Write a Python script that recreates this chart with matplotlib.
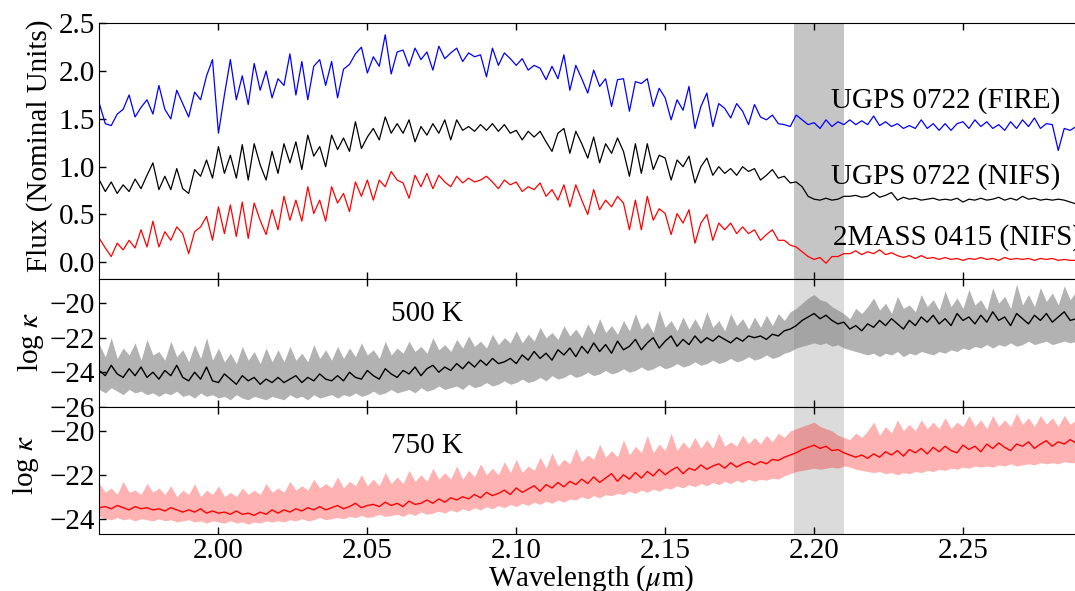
import numpy as np
import matplotlib
matplotlib.use('Agg')
import matplotlib.pyplot as plt

plt.rcParams['font.family'] = ['Liberation Serif', 'DejaVu Serif']
plt.rcParams['mathtext.fontset'] = 'stix'
plt.rcParams['font.size'] = 21

# wavelength grid (micron), 0.002 step
wl = np.linspace(1.960, 2.288, 165)

# spectra, offset
fire_ugps = [
    1.66, 1.45, 1.43, 1.55, 1.60, 1.75, 1.52, 1.62, 1.70, 1.55,
    1.85, 1.60, 1.50, 1.80, 1.66, 1.52, 1.78, 1.70, 1.95, 2.12,
    1.35, 1.75, 2.12, 1.70, 1.95, 1.65, 2.08, 1.80, 2.00, 1.72,
    1.92, 1.85, 2.18, 1.75, 2.10, 1.70, 2.05, 2.12, 1.85, 2.10,
    1.72, 2.02, 2.07, 2.18, 2.25, 1.98, 2.15, 2.05, 2.38, 1.97,
    2.20, 2.22, 2.05, 2.24, 2.12, 2.20, 2.01, 2.26, 2.13, 2.19,
    2.24, 2.10, 2.19, 2.15, 2.17, 1.94, 2.24, 2.06, 2.19, 2.13,
    2.06, 2.13, 2.01, 2.06, 2.03, 1.91, 2.05, 1.92, 2.17, 1.80,
    2.06, 1.92, 1.77, 2.01, 1.84, 1.92, 1.63, 1.91, 1.92, 1.58,
    1.89, 1.87, 1.92, 1.63, 1.82, 1.72, 1.49, 1.70, 1.59, 1.84,
    1.40, 1.63, 1.77, 1.42, 1.66, 1.61, 1.51, 1.66, 1.58, 1.44,
    1.65, 1.52, 1.49, 1.54, 1.45, 1.44, 1.42, 1.54, 1.49, 1.44,
    1.46, 1.40, 1.49, 1.42, 1.47, 1.44, 1.49, 1.44, 1.48, 1.44,
    1.53, 1.43, 1.47, 1.42, 1.45, 1.40, 1.43, 1.40, 1.49, 1.40,
    1.45, 1.38, 1.45, 1.38, 1.45, 1.47, 1.40, 1.49, 1.42, 1.47,
    1.40, 1.44, 1.38, 1.47, 1.40, 1.49, 1.42, 1.51, 1.40, 1.45,
    1.44, 1.17, 1.40, 1.38, 1.42,
]
nifs_ugps = [
    0.86, 0.74, 0.84, 0.72, 0.81, 0.74, 0.87, 0.77, 0.91, 1.04,
    0.76, 0.90, 0.76, 0.98, 0.77, 0.72, 0.97, 0.90, 1.07, 0.88,
    1.21, 0.93, 1.12, 0.88, 1.23, 0.86, 1.24, 1.02, 0.86, 1.16,
    0.93, 1.24, 1.04, 1.26, 0.97, 1.33, 1.11, 1.21, 1.00, 1.33,
    1.18, 1.30, 1.16, 1.47, 1.19, 1.31, 1.40, 1.28, 1.52, 1.35,
    1.45, 1.35, 1.49, 1.26, 1.42, 1.33, 1.45, 1.35, 1.49, 1.28,
    1.49, 1.38, 1.42, 1.37, 1.44, 1.38, 1.45, 1.37, 1.44, 1.35,
    1.38, 1.28, 1.37, 1.31, 1.37, 1.26, 1.16, 1.35, 1.40, 1.14,
    1.37, 1.24, 1.09, 1.31, 1.04, 1.24, 1.14, 1.30, 1.16, 0.90,
    1.24, 0.93, 1.24, 0.97, 1.12, 1.09, 0.86, 1.07, 1.00, 1.11,
    0.83, 1.00, 1.09, 0.91, 1.00, 0.93, 0.98, 0.91, 1.00, 0.95,
    0.98, 0.86, 0.91, 0.97, 0.88, 0.90, 0.83, 0.84, 0.79, 0.69,
    0.66, 0.65, 0.67, 0.65, 0.66, 0.69, 0.69, 0.70, 0.68, 0.69,
    0.73, 0.68, 0.70, 0.73, 0.65, 0.68, 0.66, 0.67, 0.65, 0.66,
    0.67, 0.65, 0.66, 0.65, 0.67, 0.63, 0.66, 0.65, 0.67, 0.65,
    0.66, 0.68, 0.65, 0.67, 0.65, 0.69, 0.66, 0.67, 0.65, 0.66,
    0.65, 0.66, 0.65, 0.63, 0.61,
]
nifs_2mass = [
    0.25, 0.15, 0.06, 0.20, 0.13, 0.23, 0.15, 0.34, 0.16, 0.43,
    0.16, 0.32, 0.23, 0.37, 0.30, 0.09, 0.32, 0.37, 0.48, 0.23,
    0.58, 0.30, 0.60, 0.27, 0.63, 0.25, 0.62, 0.44, 0.29, 0.55,
    0.34, 0.69, 0.44, 0.65, 0.43, 0.79, 0.51, 0.65, 0.43, 0.79,
    0.62, 0.72, 0.53, 0.84, 0.69, 0.86, 0.65, 0.86, 0.79, 0.95,
    0.86, 0.83, 0.67, 0.91, 0.79, 0.93, 0.77, 0.91, 0.84, 0.79,
    0.90, 0.83, 0.88, 0.84, 0.86, 0.90, 0.84, 0.77, 0.86, 0.81,
    0.84, 0.74, 0.79, 0.76, 0.83, 0.69, 0.76, 0.65, 0.81, 0.58,
    0.81, 0.65, 0.50, 0.76, 0.55, 0.65, 0.58, 0.69, 0.62, 0.34,
    0.65, 0.34, 0.69, 0.44, 0.56, 0.51, 0.29, 0.51, 0.41, 0.55,
    0.20, 0.41, 0.50, 0.23, 0.41, 0.34, 0.41, 0.30, 0.37, 0.30,
    0.34, 0.23, 0.29, 0.34, 0.23, 0.23, 0.18, 0.16, 0.11, 0.06,
    0.03, 0.05, -0.01, 0.06, 0.06, 0.09, 0.09, 0.12, 0.08, 0.11,
    0.09, 0.13, 0.08, 0.10, 0.07, 0.05, 0.07, 0.04, 0.07, 0.04,
    0.05, 0.03, 0.05, 0.03, 0.04, 0.02, 0.04, 0.03, 0.05, 0.03,
    0.04, 0.02, 0.05, 0.03, 0.04, 0.03, 0.04, 0.02, 0.04, 0.03,
    0.04, 0.02, 0.03, 0.02, 0.02,
]

# log opacity, 500 K: median line and envelope
k500 = [
    -23.9, -24.2, -23.6, -24.1, -24.3, -23.8, -24.2, -23.7, -24.3, -24.0,
    -24.4, -23.9, -24.2, -23.6, -24.3, -24.5, -24.0, -24.4, -23.7, -24.5,
    -24.6, -24.1, -24.4, -24.7, -24.2, -24.5, -24.3, -24.7, -24.4, -24.6,
    -24.3, -24.6, -24.4, -24.2, -24.6, -24.3, -24.5, -24.1, -24.4, -24.5,
    -24.2, -24.5, -24.0, -24.3, -24.4, -23.9, -24.2, -24.4, -23.8, -24.1,
    -24.3, -23.9, -24.1, -23.7, -24.2, -23.8, -23.6, -24.0, -23.7, -23.9,
    -23.5, -23.8, -23.4, -23.7, -23.3, -23.6, -23.2, -23.5, -23.4, -23.2,
    -23.5, -23.0, -23.3, -22.8, -23.2, -22.9, -23.3, -22.7, -23.0, -22.6,
    -23.1, -22.5, -22.9, -22.3, -22.8, -22.4, -22.9, -22.2, -22.7, -22.5,
    -22.1, -22.7, -22.3, -22.0, -22.6, -22.2, -21.9, -22.5, -22.1, -22.4,
    -21.9, -22.3, -22.0, -22.2, -21.9, -22.1, -22.3, -22.0, -22.2, -21.9,
    -22.0, -21.9, -22.1, -21.8, -21.9, -21.6, -21.5, -21.3, -21.0, -20.8,
    -20.6, -20.9, -20.7, -21.0, -21.2, -21.1, -21.5, -21.3, -21.6, -21.2,
    -21.4, -21.0, -21.3, -20.9, -21.2, -21.5, -21.0, -21.3, -20.8, -21.1,
    -20.7, -21.2, -20.9, -21.3, -20.6, -21.0, -20.8, -21.2, -20.7, -21.1,
    -20.5, -21.0, -20.8, -21.3, -20.6, -20.9, -21.2, -20.7, -21.0, -20.6,
    -21.1, -20.8, -20.5, -21.0, -20.9,
]
k500_hi = [
    -22.4, -23.1, -22.0, -23.2, -22.6, -23.0, -22.3, -23.3, -22.1, -23.0,
    -22.8, -23.3, -22.2, -23.1, -22.7, -23.4, -22.4, -23.2, -22.0, -23.3,
    -22.6, -23.4, -22.9, -23.5, -22.5, -23.3, -22.8, -23.5, -22.6, -23.4,
    -22.7, -23.4, -22.5, -23.3, -22.9, -23.4, -22.4, -23.2, -22.7, -23.3,
    -22.5, -23.2, -22.6, -23.1, -22.3, -23.0, -22.7, -23.2, -22.2, -23.0,
    -22.6, -22.9, -22.2, -22.8, -22.5, -22.9, -22.0, -22.7, -22.4, -22.8,
    -22.1, -22.6, -21.9, -22.5, -22.2, -22.6, -21.8, -22.4, -22.0, -22.3,
    -21.6, -22.3, -21.8, -22.2, -21.4, -22.0, -21.7, -22.1, -21.3, -21.9,
    -21.5, -22.0, -21.2, -21.8, -20.9, -21.7, -21.3, -21.8, -21.0, -21.6,
    -20.6, -21.5, -21.1, -21.7, -20.4, -21.4, -21.0, -21.6, -20.8, -21.5,
    -20.9, -21.5, -20.5, -21.4, -21.0, -21.6, -20.6, -21.3, -20.9, -21.5,
    -20.8, -21.4, -20.7, -21.3, -20.6, -21.0, -20.5, -20.3, -20.0, -19.7,
    -19.5, -19.8, -19.9, -20.2, -20.4, -20.6, -20.9, -20.3, -20.6, -20.2,
    -19.7, -20.4, -20.0, -20.6, -19.6, -20.3, -20.1, -20.5, -19.5, -20.2,
    -19.8, -20.4, -19.3, -20.2, -19.7, -20.3, -19.2, -20.1, -19.8, -20.4,
    -19.1, -20.0, -19.6, -20.3, -18.9, -20.1, -19.5, -20.2, -19.1, -19.9,
    -19.4, -20.1, -19.0, -19.8, -19.3,
]
k500_lo = [
    -25.0, -25.2, -24.9, -25.1, -25.3, -25.0, -25.2, -25.1, -25.3, -25.2,
    -25.4, -25.2, -25.3, -25.1, -25.4, -25.3, -25.5, -25.2, -25.4, -25.3,
    -25.5, -25.4, -25.6, -25.3, -25.5, -25.6, -25.4, -25.5, -25.6, -25.4,
    -25.5, -25.6, -25.3, -25.5, -25.4, -25.6, -25.3, -25.5, -25.4, -25.3,
    -25.5, -25.3, -25.4, -25.2, -25.4, -25.3, -25.1, -25.3, -25.2, -25.0,
    -25.2, -25.1, -25.0, -25.2, -24.9, -25.1, -25.0, -24.8, -25.0, -24.9,
    -24.8, -25.0, -24.7, -24.9, -24.8, -24.6, -24.8, -24.7, -24.5, -24.7,
    -24.6, -24.4, -24.6, -24.5, -24.3, -24.5, -24.2, -24.4, -24.3, -24.1,
    -24.3, -24.2, -24.0, -24.2, -24.1, -23.9, -24.1, -24.0, -23.8, -24.0,
    -23.9, -23.7, -23.9, -23.8, -23.6, -23.8, -23.7, -23.5, -23.7, -23.6,
    -23.4, -23.6, -23.5, -23.3, -23.5, -23.4, -23.2, -23.4, -23.3, -23.1,
    -23.3, -23.2, -23.0, -23.2, -23.1, -22.9, -22.8, -22.6, -22.5, -22.4,
    -22.3, -22.4, -22.3, -22.5, -22.4, -22.6, -22.7, -22.8, -22.9, -23.0,
    -22.9, -23.1, -22.9, -23.0, -22.8, -23.1, -22.9, -23.0, -22.8, -22.9,
    -23.0, -22.8, -22.9, -22.7, -22.8, -22.6, -22.7, -22.5, -22.6, -22.4,
    -22.6, -22.4, -22.5, -22.3, -22.5, -22.4, -22.2, -22.4, -22.3, -22.2,
    -22.4, -22.3, -22.2, -22.3, -22.2,
]

# log opacity, 750 K
k750 = [
    -23.5, -23.45, -23.55, -23.4, -23.5, -23.6, -23.45, -23.55, -23.5, -23.6,
    -23.55, -23.65, -23.5, -23.6, -23.7, -23.6, -23.7, -23.55, -23.75, -23.65,
    -23.75, -23.7, -23.8, -23.65, -23.8, -23.75, -23.85, -23.7, -23.8, -23.6,
    -23.75, -23.6, -23.7, -23.55, -23.65, -23.5, -23.6, -23.45, -23.6, -23.5,
    -23.4, -23.55, -23.45, -23.3, -23.5, -23.4, -23.35, -23.45, -23.25, -23.4,
    -23.3, -23.45, -23.2, -23.35, -23.3, -23.15, -23.3, -23.1, -23.25, -23.05,
    -23.15, -23.0, -23.1, -22.9, -23.05, -22.8, -22.95, -22.85, -22.7, -22.9,
    -22.6, -22.8, -22.65, -22.5, -22.75, -22.45, -22.6, -22.35, -22.55, -22.3,
    -22.45, -22.2, -22.4, -22.1, -22.35, -22.15, -21.95, -22.3, -22.0, -22.2,
    -21.9, -22.15, -21.85, -22.05, -21.75, -22.0, -21.8, -21.65, -21.95, -21.7,
    -21.8, -21.55, -21.75, -21.6, -21.5, -21.7, -21.45, -21.65, -21.5, -21.4,
    -21.55, -21.4, -21.5, -21.3, -21.35, -21.2, -21.1, -21.0, -20.85, -20.75,
    -20.65, -20.8, -20.7, -20.9, -20.85, -21.0, -21.1, -21.2, -21.1, -21.25,
    -21.05, -21.2, -20.95, -21.1, -20.9, -21.15, -20.85, -21.0, -20.8, -21.05,
    -20.75, -20.95, -20.7, -20.9, -21.0, -20.65, -20.85, -20.7, -20.95, -20.6,
    -20.8, -20.55, -20.75, -20.9, -20.6, -20.7, -20.5, -20.8, -20.6, -20.45,
    -20.7, -20.5, -20.6, -20.4, -20.55,
]
k750_hi = [
    -22.4, -22.8, -22.6, -22.9, -22.3, -22.8, -22.7, -22.9, -22.4, -22.8,
    -22.6, -22.9, -22.5, -23.0, -22.7, -22.9, -22.4, -23.0, -22.7, -22.9,
    -22.5, -23.0, -22.8, -23.0, -22.6, -22.9, -22.7, -22.9, -22.4, -22.8,
    -22.6, -22.8, -22.3, -22.7, -22.5, -22.7, -22.2, -22.6, -22.4, -22.6,
    -22.1, -22.6, -22.3, -22.5, -22.0, -22.5, -22.2, -22.5, -21.9, -22.4,
    -22.1, -22.4, -21.8, -22.3, -22.0, -22.3, -21.7, -22.2, -21.9, -22.2,
    -21.6, -22.2, -21.8, -22.1, -21.5, -22.0, -21.7, -22.0, -21.4, -21.9,
    -21.3, -21.9, -21.6, -21.8, -21.2, -21.7, -21.0, -21.6, -21.3, -21.5,
    -20.8, -21.4, -21.1, -21.3, -20.6, -21.2, -20.9, -21.2, -20.4, -21.1,
    -20.7, -21.0, -20.2, -21.0, -20.6, -20.9, -20.1, -20.9, -20.5, -20.8,
    -20.3, -20.8, -20.4, -20.8, -20.1, -20.7, -20.5, -20.7, -20.2, -20.6,
    -20.3, -20.6, -20.2, -20.5, -20.1, -20.3, -20.0, -19.9, -19.8, -19.7,
    -19.6, -19.8, -19.9, -20.0, -20.2, -20.3, -20.4, -20.1, -20.3, -20.0,
    -19.6, -20.2, -19.8, -20.1, -19.5, -20.0, -19.7, -20.0, -19.5, -19.9,
    -19.6, -19.9, -19.4, -19.9, -19.6, -19.8, -19.3, -19.8, -19.5, -19.9,
    -19.3, -19.8, -19.5, -19.8, -19.2, -19.7, -19.4, -19.8, -19.3, -19.7,
    -19.4, -19.8, -19.3, -19.7, -19.5,
]
k750_lo = [
    -23.9, -24.0, -24.05, -23.95, -24.05, -24.0, -24.1, -24.0, -24.05, -24.1,
    -24.0, -24.1, -24.05, -24.15, -24.1, -24.05, -24.15, -24.1, -24.2, -24.1,
    -24.15, -24.2, -24.1, -24.2, -24.15, -24.25, -24.15, -24.2, -24.1, -24.15,
    -24.1, -24.15, -24.05, -24.1, -24.0, -24.1, -24.05, -23.95, -24.05, -24.0,
    -23.95, -24.0, -23.9, -23.95, -23.85, -23.95, -23.9, -23.8, -23.9, -23.85,
    -23.8, -23.9, -23.75, -23.85, -23.7, -23.8, -23.75, -23.65, -23.75, -23.6,
    -23.7, -23.55, -23.65, -23.5, -23.6, -23.45, -23.55, -23.4, -23.5, -23.35,
    -23.45, -23.3, -23.4, -23.25, -23.35, -23.2, -23.3, -23.15, -23.25, -23.1,
    -23.15, -23.0, -23.1, -22.95, -23.05, -22.9, -22.95, -22.85, -22.9, -22.75,
    -22.85, -22.7, -22.8, -22.65, -22.75, -22.6, -22.65, -22.5, -22.6, -22.45,
    -22.55, -22.4, -22.5, -22.35, -22.45, -22.3, -22.4, -22.25, -22.35, -22.2,
    -22.3, -22.2, -22.25, -22.15, -22.2, -22.05, -21.95, -21.85, -21.8, -21.75,
    -21.7, -21.75, -21.7, -21.65, -21.7, -21.6, -21.65, -21.75, -21.8, -21.85,
    -21.9, -21.85, -21.95, -21.9, -22.0, -21.9, -21.95, -21.85, -21.9, -21.8,
    -21.85, -21.75, -21.8, -21.7, -21.75, -21.65, -21.7, -21.6, -21.65, -21.6,
    -21.65, -21.55, -21.6, -21.5, -21.6, -21.55, -21.5, -21.55, -21.45, -21.5,
    -21.45, -21.5, -21.4, -21.45, -21.45,
]

band = (2.1933, 2.2101)
xticks = [2.00, 2.05, 2.10, 2.15, 2.20, 2.25]

fig = plt.figure(figsize=(10.75, 5.91), dpi=100)
ax1 = fig.add_axes([0.0924, 0.5279, 0.9142, 0.4327])
ax2 = fig.add_axes([0.0924, 0.3118, 0.9142, 0.2161])
ax3 = fig.add_axes([0.0924, 0.0964, 0.9142, 0.2154])

# top: observed spectra
ax1.axvspan(*band, color='gray', alpha=0.45, lw=0, zorder=0)
ax1.plot(wl, fire_ugps, color='blue', lw=0.9)
ax1.plot(wl, nifs_ugps, color='black', lw=0.9)
ax1.plot(wl, nifs_2mass, color='red', lw=0.9)
ax1.text(2.2057, 1.69, 'UGPS 0722 (FIRE)', va='center')
ax1.text(2.2057, 0.90, 'UGPS 0722 (NIFS)', va='center')
ax1.text(2.2062, 0.26, '2MASS 0415 (NIFS)', va='center')
ax1.set_ylim(-0.175, 2.5)
ax1.set_yticks([0.0, 0.5, 1.0, 1.5, 2.0, 2.5])
ax1.set_yticklabels(['%.1f' % v for v in ax1.get_yticks()])
ax1.set_ylabel('Flux (Nominal Units)')
ax1.yaxis.set_label_coords(-0.047, 0.52)

# middle: 500 K opacity
ax2.axvspan(*band, color='gray', alpha=0.28, lw=0, zorder=0)
ax2.fill_between(wl, k500_lo, k500_hi, color='gray', alpha=0.6, lw=0)
ax2.plot(wl, k500, color='black', lw=1.0)
ax2.text(2.070, -20.62, '500 K', ha='center', va='center')
ax2.set_ylim(-26, -18.6)
ax2.set_yticks([-26, -24, -22, -20])
ax2.set_ylabel(r'log $\kappa$')
ax2.yaxis.set_label_coords(-0.0545, 0.51)

# bottom: 750 K opacity
ax3.axvspan(*band, color='gray', alpha=0.28, lw=0, zorder=0)
ax3.fill_between(wl, k750_lo, k750_hi, color='red', alpha=0.3, lw=0)
ax3.plot(wl, k750, color='red', lw=1.0)
ax3.text(2.070, -20.7, '750 K', ha='center', va='center')
ax3.set_ylim(-24.7, -18.9)
ax3.set_yticks([-24, -22, -20])
ax3.set_ylabel(r'log $\kappa$')
ax3.yaxis.set_label_coords(-0.0596, 0.54)
ax3.set_xlabel(r'Wavelength ($\mu$m)')
ax3.xaxis.set_label_coords(0.5, -0.232)

for ax in (ax1, ax2, ax3):
    ax.set_xlim(1.96, 2.29)
    ax.set_xticks(xticks)
    ax.tick_params(direction='in', top=True, right=True, length=5, width=1)
    ax.tick_params(axis='y', pad=3)
    ax.tick_params(axis='x', pad=3)
ax3.set_xticklabels(['%.2f' % v for v in xticks])
ax1.tick_params(labelbottom=False)
ax2.tick_params(labelbottom=False)

fig.savefig('out.png', dpi=100)
